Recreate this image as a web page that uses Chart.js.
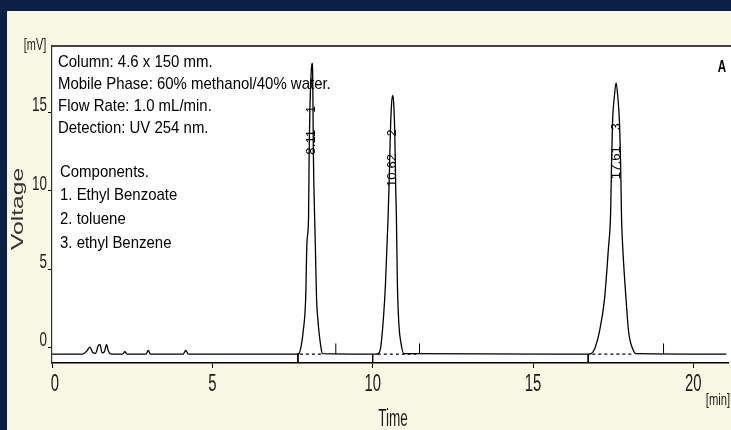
<!DOCTYPE html>
<html>
<head>
<meta charset="utf-8">
<script src="https://cdn.jsdelivr.net/npm/chart.js@4"></script>
<style>
  html, body { margin: 0; padding: 0; background: #0b2044; }
  #wrap { width: 731px; height: 430px; position: relative; }
</style>
</head>
<body>
<div id="wrap"><canvas id="chrom"></canvas></div>
<script>
/* ===== DATA ===== */
const time = [
  0, 0.95, 1.08, 1.18, 1.27, 1.36, 1.44, 1.50, 1.56, 1.63, 1.70, 1.76, 1.84,
  2.20, 2.27, 2.34, 2.93, 3.00, 3.07, 4.09, 4.17, 4.25,
  7.62, 7.70, 7.78, 7.83, 7.91, 7.95, 8.00, 8.02, 8.04, 8.08, 8.11, 8.13, 8.14, 8.15,
  8.19, 8.21, 8.25, 8.29, 8.33, 8.38, 8.43,
  10.10, 10.17, 10.25, 10.34, 10.40, 10.48, 10.52, 10.55, 10.59, 10.63, 10.66, 10.69,
  10.72, 10.74, 10.77, 10.82, 10.88, 10.97,
  16.72, 16.81, 16.92, 17.07, 17.23, 17.35, 17.42, 17.45, 17.48, 17.54, 17.59, 17.64,
  17.70, 17.73, 17.76, 17.80, 17.90, 17.98, 18.11, 18.21, 21.03
];
const mv = [
  -0.43, -0.43, -0.25, 0.02, -0.33, -0.38, 0.10, 0.17, -0.35, -0.30, 0.17, -0.25, -0.43,
  -0.43, -0.28, -0.43, -0.43, -0.20, -0.43, -0.43, -0.20, -0.43,
  -0.43, -0.40, 0.20, 0.97, 3.1, 6.7, 8.3, 12.5, 15.0, 17.5, 18.15, 17.3, 15.0, 12.5,
  8.3, 6.7, 3.1, 1.8, 0.9, 0.1, -0.40,
  -0.43, -0.40, 0.0, 2.0, 4.1, 8.3, 11.0, 13.6, 15.6, 16.1, 15.4, 13.6,
  10.0, 8.3, 4.1, 1.4, 0.3, -0.40,
  -0.43, -0.40, -0.10, 1.0, 3.1, 6.3, 8.6, 11.9, 14.4, 16.1, 16.9, 16.1,
  14.2, 11.9, 8.3, 6.3, 3.1, 1.0, -0.10, -0.40, -0.43
];
const baseline = -0.43;
const xTickValues = [0, 5, 10, 15, 20];
const yTickValues = [0, 5, 10, 15];
const peakTimes = [8.11, 10.62, 17.61];
const peakLabels = ["8.11", "10.62", "17.61"];
const peakNumbers = ["1", "2", "3"];
const dashStart = [7.73, 10.16, 16.85];
const dashEnd = [8.44, 11.36, 18.16];
const markUp = [8.85, 11.46, 19.07];
const markDown = [7.67, 10.0, 16.72];
const infoLines = [
  "Column: 4.6 x 150 mm.",
  "Mobile Phase: 60% methanol/40% water.",
  "Flow Rate: 1.0 mL/min.",
  "Detection: UV 254 nm."
];
const componentLines = [
  "Components.",
  "1. Ethyl Benzoate",
  "2. toluene",
  "3. ethyl Benzene"
];

/* ===== helpers ===== */
const signalData = time.map((t, i) => ({ x: t, y: mv[i] }));

function segments(xs, y0, y1) {
  const out = [];
  xs.forEach((t) => {
    out.push({ x: t, y: y0 }, { x: t, y: y1 }, { x: t, y: null });
  });
  return out;
}
function dashSegments() {
  const out = [];
  dashStart.forEach((s, i) => {
    out.push({ x: s, y: baseline }, { x: dashEnd[i], y: baseline }, { x: dashEnd[i], y: null });
  });
  return out;
}

function txt(ctx, s, x, y, font, sx, sy, align, rot) {
  ctx.save();
  ctx.translate(x, y);
  if (rot) ctx.rotate(rot);
  ctx.scale(sx, sy);
  ctx.font = font;
  ctx.textAlign = align || "left";
  ctx.textBaseline = "middle";
  ctx.fillText(s, 0, 0);
  ctx.restore();
}

/* ===== background / frame ===== */
const framePlugin = {
  id: "frame",
  beforeDraw(chart) {
    const { ctx, chartArea } = chart;
    ctx.save();
    ctx.fillStyle = "#0b2044";
    ctx.fillRect(0, 0, chart.width, chart.height);
    ctx.fillStyle = "#f8f8e4";
    ctx.fillRect(7, 11, chart.width - 7, chart.height - 11);
    ctx.fillStyle = "#ffffff";
    ctx.fillRect(chartArea.left, chartArea.top, chart.width - chartArea.left, chartArea.bottom - chartArea.top);
    ctx.strokeStyle = "#444";
    ctx.lineWidth = 2;
    ctx.beginPath();
    ctx.moveTo(chartArea.left, chartArea.top);
    ctx.lineTo(chart.width, chartArea.top);
    ctx.stroke();
    ctx.restore();
  },
  afterDraw(chart) {
    const { ctx } = chart;
    const xs = chart.scales.x, ys = chart.scales.y;
    ctx.save();
    ctx.fillStyle = "#1a1a1a";

    // tick labels (narrow, tall digits)
    xs.ticks.forEach((tk) => {
      const px = xs.getPixelForValue(tk.value) + (tk.value === 0 ? 3 : 0);
      txt(ctx, String(tk.value), px, 384, "24px 'Liberation Sans', Arial", 0.62, 1, "center");
    });
    ys.ticks.forEach((tk) => {
      const py = ys.getPixelForValue(tk.value) - 7;
      txt(ctx, String(tk.value), 47, py, "21px 'Liberation Sans', Arial", 0.64, 1, "right");
    });

    // axis titles
    txt(ctx, "[mV]", 35, 46, "16px 'Liberation Sans', Arial", 0.68, 1, "center");
    ctx.fillStyle = "#333";
    txt(ctx, "Voltage", 18, 209, "17px 'Liberation Sans', Arial", 1.45, 1, "center", -Math.PI / 2);
    ctx.fillStyle = "#1a1a1a";
    txt(ctx, "Time", 393, 420, "23px 'Liberation Sans', Arial", 0.59, 1, "center");
    txt(ctx, "[min]", 718, 400, "17px 'Liberation Sans', Arial", 0.66, 1, "center");

    // method text
    ctx.fillStyle = "#000";
    infoLines.forEach((s, i) => {
      txt(ctx, s, 58, 62 + i * 22.2, "17px 'Liberation Sans', Arial", 0.88, 1, "left");
    });
    componentLines.forEach((s, i) => {
      txt(ctx, s, 60, 172 + i * 23.7, "17px 'Liberation Sans', Arial", 0.88, 1, "left");
    });
    txt(ctx, "A", 722, 68, "bold 16px 'Liberation Sans', Arial", 0.72, 1, "center");

    // retention time labels along the peaks
    const labelY = [13.1, 11.3, 11.8];
    const numY = [15.2, 13.7, 14.1];
    peakTimes.forEach((t, i) => {
      const px = xs.getPixelForValue(t);
      txt(ctx, peakLabels[i], px, ys.getPixelForValue(labelY[i]), "12px 'Liberation Sans', Arial", 1.1, 1, "center", -Math.PI / 2);
      txt(ctx, peakNumbers[i], px, ys.getPixelForValue(numY[i]), "12px 'Liberation Sans', Arial", 1.0, 1, "center", -Math.PI / 2);
    });
    ctx.restore();
  },
};

/* ===== CHROMATOGRAM ===== */
const ctx = document.getElementById("chrom");

new Chart(ctx, {
  type: "line",
  data: {
    datasets: [
      {
        label: "signal",
        data: signalData,
        borderColor: "#000",
        borderWidth: 1.3,
        pointRadius: 0,
        cubicInterpolationMode: "monotone",
        fill: false,
      },
      {
        label: "baselines",
        data: dashSegments(),
        borderColor: "#000",
        borderWidth: 1.2,
        borderDash: [3, 3],
        pointRadius: 0,
        spanGaps: false,
      },
      {
        label: "marks",
        data: segments(markUp, baseline, 0.25).concat(segments(markDown, baseline, -1)),
        borderColor: "#000",
        borderWidth: 1,
        pointRadius: 0,
        spanGaps: false,
      },
    ],
  },
  options: {
    responsive: true,
    maintainAspectRatio: false,
    animation: false,
    events: [],
    layout: { padding: { top: 46, right: 3, left: 0, bottom: 0 } },
    plugins: {
      legend: { display: false },
      tooltip: { enabled: false },
    },
    scales: {
      x: {
        type: "linear",
        min: 0,
        max: 21.08,
        afterBuildTicks: (scale) => {
          scale.ticks = xTickValues.map((v) => ({ value: v }));
        },
        afterFit: (scale) => {
          scale.height = 67;
        },
        ticks: { display: false },
        grid: { drawOnChartArea: false, drawTicks: true, tickLength: 5, color: "#000" },
        border: { color: "#000", width: 1.5 },
      },
      y: {
        type: "linear",
        min: -1,
        max: 19.25,
        afterBuildTicks: (scale) => {
          scale.ticks = yTickValues.map((v) => ({ value: v }));
        },
        afterFit: (scale) => {
          scale.width = 52;
        },
        ticks: { display: false },
        grid: { drawOnChartArea: false, drawTicks: true, tickLength: 4, color: "#000" },
        border: { color: "#333", width: 1.2 },
      },
    },
  },
  plugins: [framePlugin],
});
</script>
</body>
</html>
